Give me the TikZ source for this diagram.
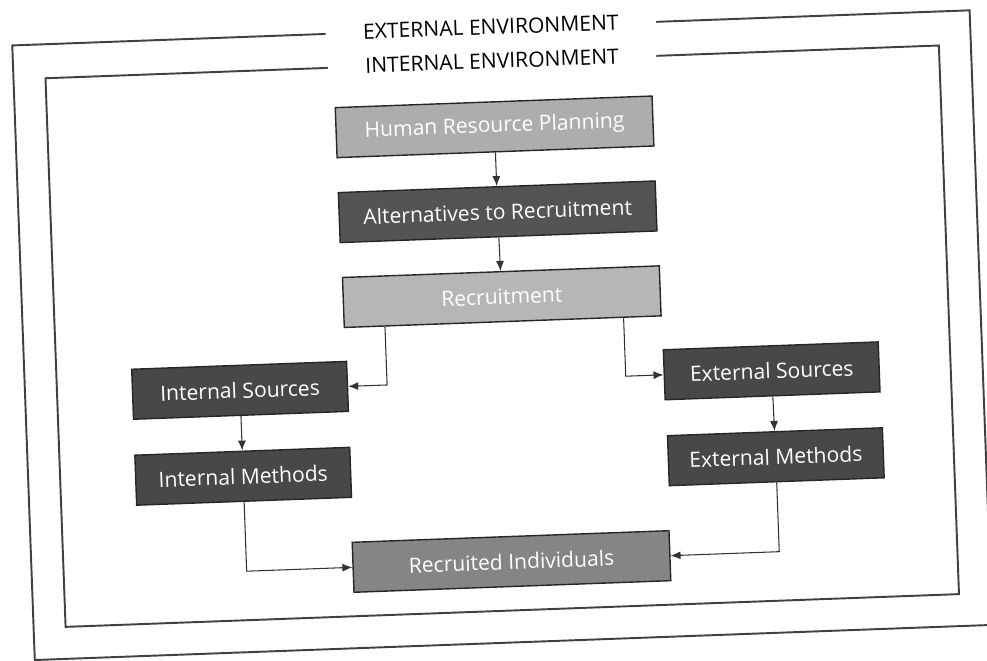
\documentclass[tikz,border=0pt]{standalone}
\usepackage{fontspec}
\setmainfont{Open Sans}
\usepackage{tikz}
\usetikzlibrary{positioning, calc, arrows.meta}
\definecolor{lightbox}{gray}{0.68}
\definecolor{midbox}{gray}{0.52}
\definecolor{darkbox}{gray}{0.33}
\definecolor{frameline}{gray}{0.25}
\tikzset{
	stepbox/.style={draw=black!85, line width=0.8pt, text=white, minimum height=10mm,
		font=\fontsize{12}{14}\selectfont}
}
\tikzset{
	widebox/.style={stepbox, minimum width=63.4mm},
	sidebox/.style={stepbox, minimum width=43mm}
}
\tikzset{
	envframe/.style={draw=frameline, line width=1.1pt},
	envlabel/.style={fill=white, inner xsep=7.5mm, font=\fontsize{12}{14}\selectfont},
	flow/.style={-{Latex[length=2mm,width=1.6mm]}, line width=0.6pt, draw=black!80}
}

\begin{document}
\begin{tikzpicture}[x=0.2mm, y=0.2mm]
      \useasboundingbox (0,0) rectangle (987,660);
      \begin{scope}[rotate around={2.1:(493.5,330)}, transform shape]
      % environments
      \node[envframe, minimum width=191.6mm, minimum height=123mm] (outer) at (502,324.5) {};
      \node[envframe, minimum width=178.8mm, minimum height=109.8mm] (inner) at (502,323.5) {};
      \node[envlabel] (extenv) at (outer.north) {EXTERNAL ENVIRONMENT};
      \node[envlabel] (intenv) at (inner.north) {INTERNAL ENVIRONMENT};
      % steps
      \node[widebox, fill=lightbox] (hrp) at (502,533) {Human Resource Planning};
      \node[widebox, fill=darkbox] (alt) at (502,448) {Alternatives to Recruitment};
      \node[widebox, fill=lightbox!90!white] (recr) at (503,363) {Recruitment};
      \node[sidebox, fill=darkbox!85!black] (intsrc) at (238,279) {Internal Sources};
      \node[sidebox, fill=darkbox!85!black] (extsrc) at (770,279) {External Sources};
      \node[sidebox, fill=darkbox!85!black] (intmeth) at (238,193) {Internal Methods};
      \node[sidebox, fill=darkbox!85!black] (extmeth) at (771,193) {External Methods};
      \node[widebox, fill=midbox] (recind) at (503,98) {Recruited Individuals};
      % arrows
      \draw[flow] (hrp) -- (alt);
      \draw[flow] (alt) -- (recr);
      \draw[flow] ($(recr.south west)!0.13!(recr.south east)$) |- (intsrc.east);
      \draw[flow] ($(recr.south west)!0.88!(recr.south east)$) |- (extsrc.west);
      \draw[flow] (intsrc) -- (intmeth);
      \draw[flow] (extsrc) -- (extmeth);
      \draw[flow] (intmeth) |- (recind);
      \draw[flow] (extmeth) |- (recind);
      \end{scope}
    \end{tikzpicture}
\end{document}
